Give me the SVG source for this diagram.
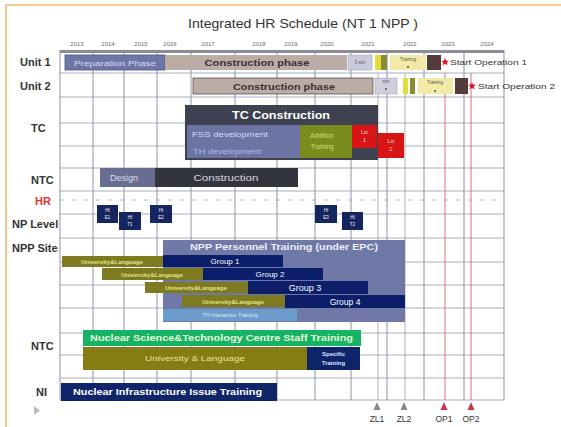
<svg xmlns="http://www.w3.org/2000/svg" width="561" height="427" viewBox="0 0 561 427">
<style>
text{font-family:"Liberation Sans",Arial,sans-serif}
.yr{font-size:6px;fill:#6a6a6a;text-anchor:middle}
.rl{font-size:11px;font-weight:bold;fill:#333}
.gv{stroke:#8c92a4;stroke-width:1}
.gh{stroke:#a8aebc;stroke-width:1}
.w{fill:#fff}
.c{text-anchor:middle}
.b{font-weight:bold}
</style>
<defs>
<polygon id="star" points="0,-4 1.1,-1.2 4,-1.2 1.7,0.6 2.5,3.5 0,1.8 -2.5,3.5 -1.7,0.6 -4,-1.2 -1.1,-1.2" fill="#e01020"/>
</defs>
<rect x="0" y="0" width="561" height="427" fill="#fff"/>
<rect x="6" y="5" width="580" height="440" fill="none" stroke="#f8c58e" stroke-width="2"/>
<text x="303" y="28" class="c" font-size="13" fill="#333" textLength="230" lengthAdjust="spacingAndGlyphs">Integrated HR Schedule (NT 1 NPP )</text>

<g id="years">
<text class="yr" x="77" y="46">2013</text><text class="yr" x="108" y="46">2014</text><text class="yr" x="141" y="46">2015</text><text class="yr" x="170" y="46">2016</text><text class="yr" x="208" y="46">2017</text><text class="yr" x="259" y="46">2018</text><text class="yr" x="291" y="46">2019</text><text class="yr" x="327" y="46">2020</text><text class="yr" x="368" y="46">2021</text><text class="yr" x="410" y="46">2022</text><text class="yr" x="448" y="46">2023</text><text class="yr" x="487" y="46">2024</text>
</g>

<g id="grid">
<g class="gh">
<line x1="60" y1="73" x2="504" y2="73"/><line x1="60" y1="97" x2="504" y2="97"/><line x1="60" y1="123" x2="504" y2="123"/><line x1="60" y1="146" x2="504" y2="146"/><line x1="60" y1="168" x2="504" y2="168"/><line x1="60" y1="191" x2="504" y2="191"/><line x1="60" y1="214" x2="504" y2="214"/><line x1="60" y1="238" x2="504" y2="238"/><line x1="60" y1="262" x2="504" y2="262"/><line x1="60" y1="285" x2="504" y2="285"/><line x1="60" y1="308" x2="504" y2="308"/><line x1="60" y1="333" x2="504" y2="333"/><line x1="60" y1="355" x2="504" y2="355"/><line x1="60" y1="378" x2="504" y2="378"/><line x1="60" y1="400" x2="504" y2="400"/>
</g>
<g class="gv">
<line x1="60" y1="50" x2="60" y2="400"/><line x1="93" y1="50" x2="93" y2="400"/><line x1="124" y1="50" x2="124" y2="400"/><line x1="157" y1="50" x2="157" y2="400"/><line x1="191" y1="50" x2="191" y2="400"/><line x1="235" y1="50" x2="235" y2="400"/><line x1="277" y1="50" x2="277" y2="400"/><line x1="315" y1="50" x2="315" y2="400"/><line x1="351" y1="50" x2="351" y2="400"/><line x1="387" y1="50" x2="387" y2="400"/><line x1="424" y1="50" x2="424" y2="400"/><line x1="464" y1="50" x2="464" y2="400"/><line x1="504" y1="50" x2="504" y2="400"/>
</g>
<line x1="378" y1="73" x2="378" y2="400" stroke="#9aa0ac" stroke-width="0.8"/>
<line x1="405" y1="73" x2="405" y2="400" stroke="#9aa0ac" stroke-width="0.8"/>
<line x1="445" y1="73" x2="445" y2="400" stroke="#d8707a" stroke-width="1"/>
<line x1="471" y1="73" x2="471" y2="400" stroke="#d8707a" stroke-width="1"/>
<line x1="60" y1="200" x2="504" y2="200" stroke="#b0b4c0" stroke-width="1" stroke-dasharray="4 8"/>
<rect x="60" y="50" width="444" height="3" fill="#8a8c9a"/>
</g>

<g id="labels">
<text class="rl" x="20" y="66">Unit 1</text>
<text class="rl" x="20" y="90">Unit 2</text>
<text class="rl" x="31" y="132">TC</text>
<text class="rl" x="31" y="184">NTC</text>
<text class="rl" x="35" y="205" style="fill:#e03030">HR</text>
<text class="rl" x="12" y="228">NP Level</text>
<text class="rl" x="12" y="252">NPP Site</text>
<text class="rl" x="31" y="350">NTC</text>
<text class="rl" x="36" y="396">NI</text>
<polygon points="34,406 34,415 40,410.5" fill="#b8bcc8"/>
</g>

<g id="unit1">
<rect x="65" y="55" width="100" height="15" fill="#6e77a8" stroke="#4c5486" stroke-width="0.8"/>
<text x="115" y="65.5" class="c" font-size="8" fill="#d6daf4" textLength="82" lengthAdjust="spacingAndGlyphs">Preparation Phase</text>
<rect x="165" y="55" width="182" height="15" fill="#bcaca6"/>
<text x="257" y="66" class="c b" font-size="9.5" fill="#3a3030" textLength="105" lengthAdjust="spacingAndGlyphs">Construction phase</text>
<rect x="348" y="55" width="24" height="15" fill="#c9cadc" stroke="#9a9cb0" stroke-width="0.5"/>
<text x="360" y="64" class="c" font-size="4.5" fill="#555">3 sim</text>
<rect x="375" y="55" width="6" height="15" fill="#e4dc3c"/>
<rect x="381" y="55" width="6" height="15" fill="#8c8a34"/>
<rect x="390" y="55" width="36" height="15" fill="#f2eaa6"/>
<text x="408" y="61" class="c" font-size="4.5" fill="#555">Training</text>
<circle cx="408" cy="67" r="1" fill="#444"/>
<rect x="427" y="55" width="14" height="15" fill="#553a3c"/>
<use href="#star" x="445" y="62"/>
<text x="450" y="65" font-size="8" fill="#333" textLength="77" lengthAdjust="spacingAndGlyphs">Start Operation 1</text>
</g>

<g id="unit2">
<rect x="193" y="78" width="180" height="16" fill="#bcaca6" stroke="#5a5050" stroke-width="0.8"/>
<text x="284" y="89.5" class="c b" font-size="9.5" fill="#3a3030" textLength="102" lengthAdjust="spacingAndGlyphs">Construction phase</text>
<rect x="375" y="78" width="22" height="16" fill="#cfd0dc" stroke="#9a9cb0" stroke-width="0.5"/>
<text x="386" y="83" class="c" font-size="4.5" fill="#555">sim</text>
<circle cx="386" cy="89" r="1" fill="#556"/>
<rect x="403" y="78" width="5" height="16" fill="#e4dc3c"/>
<rect x="410" y="78" width="5" height="16" fill="#8c8a34"/>
<rect x="418" y="78" width="35" height="16" fill="#f2eaa6"/>
<text x="435" y="84" class="c" font-size="4.5" fill="#555">Training</text>
<circle cx="435" cy="91" r="1" fill="#444"/>
<rect x="455" y="78" width="13" height="16" fill="#553a3c"/>
<use href="#star" x="472" y="86"/>
<text x="478" y="89" font-size="8" fill="#333" textLength="77" lengthAdjust="spacingAndGlyphs">Start Operation 2</text>
</g>

<g id="tc">
<rect x="185" y="105" width="193" height="55" fill="#3e4150"/>
<text x="281" y="119" class="c b w" font-size="10.5" textLength="98" lengthAdjust="spacingAndGlyphs">TC Construction</text>
<rect x="187" y="125" width="113" height="33" fill="#6c74a4"/>
<text x="192" y="137" font-size="8" fill="#d8dcf4" textLength="76" lengthAdjust="spacingAndGlyphs">FSS development</text>
<text x="193" y="154" font-size="6.5" fill="#a8bcec" textLength="68" lengthAdjust="spacingAndGlyphs">TH development</text>
<rect x="300" y="125" width="52" height="33" fill="#7a8c1e"/>
<text x="322" y="138" class="c" font-size="6.5" fill="#cfe070">Addition</text>
<text x="322" y="149" class="c" font-size="6.5" fill="#cfe070">Training</text>
<rect x="352" y="125" width="25" height="23" fill="#d81414"/>
<text x="364.5" y="134" class="c" font-size="6" fill="#f8d0d0">Lic</text>
<text x="364.5" y="142" class="c" font-size="6" fill="#f8d0d0">1</text>
<rect x="378" y="133" width="26" height="25" fill="#d81414"/>
<text x="391" y="143" class="c" font-size="6" fill="#f8d0d0">Lic</text>
<text x="391" y="151" class="c" font-size="6" fill="#f8d0d0">2</text>
</g>

<g id="ntc1">
<rect x="100" y="168" width="55" height="19" fill="#686e92"/>
<text x="110" y="181" font-size="9" fill="#dcdcf0">Design</text>
<rect x="155" y="168" width="143" height="19" fill="#33353e"/>
<text x="226" y="181" class="c" font-size="9" fill="#d8d8e0" textLength="65" lengthAdjust="spacingAndGlyphs">Construction</text>
</g>

<g id="nplevel" font-size="4.5">
<rect x="97" y="205" width="21" height="18" fill="#15255f"/>
<text x="107.5" y="212" class="c w">HI</text><text x="107.5" y="219" class="c w">E1</text>
<rect x="119" y="212" width="22" height="18" fill="#15255f"/>
<text x="130" y="219" class="c w">HI</text><text x="130" y="226" class="c w">T1</text>
<rect x="150" y="205" width="22" height="18" fill="#15255f"/>
<text x="161" y="212" class="c w">HI</text><text x="161" y="219" class="c w">E2</text>
<rect x="315" y="205" width="22" height="18" fill="#15255f"/>
<text x="326" y="212" class="c w">HI</text><text x="326" y="219" class="c w">E3</text>
<rect x="342" y="212" width="21" height="18" fill="#15255f"/>
<text x="352.5" y="219" class="c w">HI</text><text x="352.5" y="226" class="c w">T2</text>
</g>

<g id="nppsite">
<rect x="163" y="240" width="242" height="82" fill="#7078a8"/>
<text x="284" y="250" class="c b" font-size="8.5" fill="#eceef8" textLength="188" lengthAdjust="spacingAndGlyphs">NPP Personnel Training (under EPC)</text>
<rect x="163" y="255" width="120" height="12" fill="#0c1e6a"/>
<text x="225" y="264" class="c w" font-size="8">Group 1</text>
<rect x="203" y="268" width="120" height="12" fill="#0c1e6a"/>
<text x="270" y="277" class="c w" font-size="8">Group 2</text>
<rect x="248" y="281" width="120" height="13" fill="#0c1e6a"/>
<text x="305" y="291" class="c w" font-size="9">Group 3</text>
<rect x="285" y="295" width="120" height="13" fill="#0c1e6a"/>
<text x="345" y="305" class="c w" font-size="8.5">Group 4</text>
<rect x="62" y="256" width="101" height="11" fill="#7e7a20"/>
<text x="112" y="264" class="c b" font-size="6" fill="#e4e48a">University&amp;Language</text>
<rect x="102" y="268" width="101" height="12" fill="#7e7a20"/>
<text x="152" y="276.5" class="c b" font-size="6" fill="#e4e48a">University&amp;Language</text>
<rect x="145" y="282" width="103" height="11" fill="#7e7a20"/>
<text x="196" y="290" class="c b" font-size="6" fill="#e4e48a">University&amp;Language</text>
<rect x="182" y="295" width="103" height="12" fill="#7e7a20"/>
<text x="233" y="303.5" class="c b" font-size="6" fill="#e4e48a">University&amp;Language</text>
<rect x="163" y="309" width="134" height="12" fill="#6c9ccc"/>
<text x="230" y="317" class="c" font-size="5.5" fill="#dce8f8">TH Interactive Training</text>
</g>

<g id="ntc2">
<rect x="83" y="330" width="278" height="16" fill="#16b266"/>
<text x="90" y="341" class="b" font-size="8.5" fill="#e6ffd8" textLength="263" lengthAdjust="spacingAndGlyphs">Nuclear Science&amp;Technology Centre Staff Training</text>
<rect x="83" y="347" width="224" height="23" fill="#857c14"/>
<text x="195" y="361" class="c" font-size="8" fill="#f0e298" textLength="100" lengthAdjust="spacingAndGlyphs">University &amp; Language</text>
<rect x="307" y="347" width="53" height="23" fill="#0e2468"/>
<text x="333.5" y="356" class="c b" font-size="6" fill="#dde4ff">Specific</text>
<text x="333.5" y="365" class="c b" font-size="6" fill="#dde4ff">Training</text>
</g>

<g id="ni">
<rect x="61" y="383" width="216" height="18" fill="#10246a"/>
<text x="73" y="395" class="b w" font-size="8.5" textLength="189" lengthAdjust="spacingAndGlyphs">Nuclear Infrastructure Issue Training</text>
</g>

<g id="milestones" font-size="8.5">
<polygon points="377,402 373.5,410 380.5,410" fill="#888"/>
<text x="377" y="422" class="c" fill="#333">ZL1</text>
<polygon points="404,402 400.5,410 407.5,410" fill="#888"/>
<text x="404" y="422" class="c" fill="#333">ZL2</text>
<polygon points="444,402 440.5,410 447.5,410" fill="#c83848"/>
<text x="444" y="422" class="c" fill="#333">OP1</text>
<polygon points="471,402 467.5,410 474.5,410" fill="#c83848"/>
<text x="471" y="422" class="c" fill="#333">OP2</text>
</g>
</svg>
